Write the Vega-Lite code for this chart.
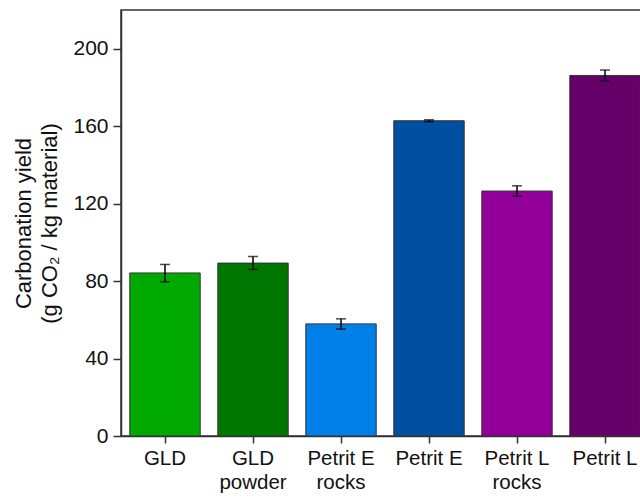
{
  "$schema": "https://vega.github.io/schema/vega-lite/v6.json",
  "width": 520,
  "height": 426,
  "autosize": {"type": "none"},
  "padding": {"left": 121, "top": 10, "right": 0, "bottom": 62},
  "background": "white",
  "config": {
    "font": "Liberation Sans",
    "view": {"stroke": "#333333", "strokeWidth": 1.5}
  },
  "data": {
    "values": [
      {"sample": "GLD", "value": 84.2, "low": 79.6, "high": 88.6, "color": "#00AA00"},
      {"sample": "GLD|powder", "value": 89.3, "low": 86.0, "high": 92.7, "color": "#007700"},
      {"sample": "Petrit E|rocks", "value": 57.9, "low": 55.2, "high": 60.5, "color": "#0080E6"},
      {"sample": "Petrit E", "value": 162.8, "low": 162.3, "high": 163.3, "color": "#004FA0"},
      {"sample": "Petrit L|rocks", "value": 126.5, "low": 123.8, "high": 129.2, "color": "#930099"},
      {"sample": "Petrit L", "value": 186.2, "low": 183.5, "high": 189.0, "color": "#640067"}
    ]
  },
  "encoding": {
    "x": {
      "field": "sample",
      "type": "nominal",
      "sort": null,
      "scale": {"range": [0, 528], "paddingInner": 0.2, "paddingOuter": 0.1},
      "axis": {
        "title": null,
        "labelAngle": 0,
        "labelExpr": "split(datum.label, '|')",
        "labelFontSize": 20.5,
        "labelColor": "#111111",
        "labelLineHeight": 24,
        "labelPadding": 5,
        "tickSize": 7,
        "tickWidth": 1.5,
        "tickColor": "#333333",
        "domainColor": "#333333",
        "domainWidth": 1.5,
        "labelFlush": false,
        "labelOverlap": false
      }
    }
  },
  "layer": [
    {
      "mark": {"type": "bar", "stroke": "#333333", "strokeWidth": 1},
      "encoding": {
        "y": {
          "field": "value",
          "type": "quantitative",
          "scale": {"domain": [0, 220], "nice": false},
          "axis": {
            "title": ["Carbonation yield", "(g CO₂ / kg material)"],
            "titleFontSize": 22,
            "titleFontWeight": "normal",
            "titleColor": "#111111",
            "titleLineHeight": 26,
            "titlePadding": 11,
            "values": [0, 40, 80, 120, 160, 200],
            "labelFontSize": 21,
            "labelColor": "#111111",
            "labelPadding": 5,
            "tickSize": 8,
            "tickWidth": 1.5,
            "tickColor": "#333333",
            "domainColor": "#333333",
            "domainWidth": 1.5,
            "grid": false
          }
        },
        "fill": {"field": "color", "type": "nominal", "scale": null}
      }
    },
    {
      "mark": {"type": "rule", "color": "black", "strokeWidth": 1.5},
      "encoding": {
        "y": {"field": "low", "type": "quantitative"},
        "y2": {"field": "high"}
      }
    },
    {
      "mark": {"type": "tick", "color": "black", "thickness": 1.5, "size": 10},
      "encoding": {
        "y": {"field": "low", "type": "quantitative"}
      }
    },
    {
      "mark": {"type": "tick", "color": "black", "thickness": 1.5, "size": 10},
      "encoding": {
        "y": {"field": "high", "type": "quantitative"}
      }
    }
  ]
}
